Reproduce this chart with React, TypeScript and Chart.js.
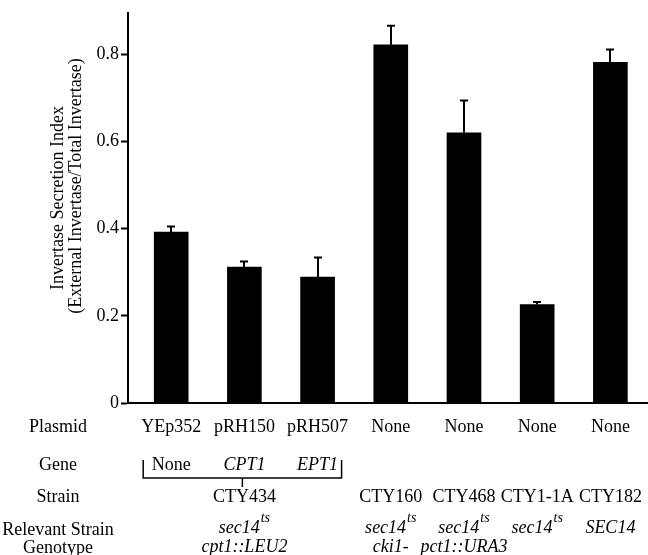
import React, { useEffect, useRef } from "react";
import { Chart, registerables } from "chart.js";

Chart.register(...registerables);

// ---- data ----
const plasmids = ["YEp352", "pRH150", "pRH507", "None", "None", "None", "None"];
const genes = ["None", "CPT1", "EPT1"];
const groupStrain = "CTY434";
const strains = ["CTY160", "CTY468", "CTY1-1A", "CTY182"];
const genotypeMain = ["sec14", "sec14", "sec14", "sec14", "SEC14"];
const genotypeSup = ["ts", "ts", "ts", "ts", ""];
const genotypeLine2 = ["cpt1::LEU2", "cki1-", "pct1::URA3", "", ""];
const rowHeaders = ["Plasmid", "Gene", "Strain", "Relevant Strain", "Genotype"];
const secretionIndex = [0.392, 0.312, 0.289, 0.822, 0.62, 0.226, 0.782];
const errorUpper = [0.013, 0.013, 0.045, 0.044, 0.074, 0.006, 0.029];
const yTicks = [0, 0.2, 0.4, 0.6, 0.8];
const yTitle = ["Invertase Secretion Index", "(External Invertase/Total Invertase)"];

const SERIF = '"Liberation Serif", "Times New Roman", serif';

const annotPlugin = {
  id: "annot",
  beforeDraw(chart: any) {
    const ctx = chart.ctx;
    ctx.save();
    ctx.fillStyle = "#fff";
    ctx.fillRect(0, 0, chart.width, chart.height);
    ctx.restore();
  },
  afterDraw(chart: any) {
    const ctx = chart.ctx;
    const xs = chart.scales.x;
    const ys = chart.scales.y;
    ctx.save();
    ctx.strokeStyle = "#000";
    ctx.fillStyle = "#000";

    // error bars (upper only)
    ctx.lineWidth = 2;
    secretionIndex.forEach((v, i) => {
      const cx = Math.round(xs.getPixelForValue(i));
      const y0 = ys.getPixelForValue(v);
      const y1 = ys.getPixelForValue(v + errorUpper[i]);
      ctx.beginPath();
      ctx.moveTo(cx, y0);
      ctx.lineTo(cx, y1);
      ctx.moveTo(cx - 4, y1);
      ctx.lineTo(cx + 4, y1);
      ctx.stroke();
    });

    // y title
    ctx.font = `18px ${SERIF}`;
    ctx.textAlign = "center";
    ctx.textBaseline = "middle";
    const titleX = [58, 76];
    const titleY = [198, 186];
    yTitle.forEach((t, i) => {
      ctx.save();
      ctx.translate(titleX[i], titleY[i]);
      ctx.rotate(-Math.PI / 2);
      ctx.fillText(t, 0, 0);
      ctx.restore();
    });

    // table
    const col = (i: number) => xs.getPixelForValue(i);
    const rowBase = [432, 470, 502, 535, 553];
    ctx.textBaseline = "alphabetic";
    ctx.textAlign = "center";
    ctx.font = `18px ${SERIF}`;
    rowHeaders.forEach((h, r) => ctx.fillText(h, 58, rowBase[r]));

    // plasmid row
    plasmids.forEach((p, i) => ctx.fillText(p, col(i), rowBase[0]));

    // gene row
    genes.forEach((g, i) => {
      ctx.font = i === 0 ? `18px ${SERIF}` : `italic 18px ${SERIF}`;
      ctx.fillText(g, col(i), rowBase[1]);
    });

    // bracket
    const bl = col(0) - 28;
    const br = col(genes.length - 1) + 24;
    const bc = (bl + br) / 2;
    ctx.lineWidth = 1.5;
    ctx.beginPath();
    ctx.moveTo(bl, 460);
    ctx.lineTo(bl, 478);
    ctx.lineTo(br, 478);
    ctx.lineTo(br, 460);
    ctx.moveTo(bc, 478);
    ctx.lineTo(bc, 487);
    ctx.stroke();

    // strain row
    ctx.font = `18px ${SERIF}`;
    const groupCenter = (col(0) + col(genes.length - 1)) / 2;
    ctx.fillText(groupStrain, groupCenter, rowBase[2]);
    strains.forEach((s, k) => ctx.fillText(s, col(genes.length + k), rowBase[2]));

    // genotype
    const gCenters = [groupCenter, ...strains.map((_, k) => col(genes.length + k))];
    gCenters.forEach((cx, k) => {
      ctx.font = `italic 18px ${SERIF}`;
      const mw = ctx.measureText(genotypeMain[k]).width;
      ctx.font = `italic 14px ${SERIF}`;
      const sw = genotypeSup[k] ? ctx.measureText(genotypeSup[k]).width + 1 : 0;
      const start = cx - (mw + sw) / 2;
      ctx.textAlign = "left";
      ctx.font = `italic 18px ${SERIF}`;
      ctx.fillText(genotypeMain[k], start, rowBase[3] - 2);
      if (genotypeSup[k]) {
        ctx.font = `italic 14px ${SERIF}`;
        ctx.fillText(genotypeSup[k], start + mw + 1, rowBase[3] - 13);
      }
      ctx.textAlign = "center";
      ctx.font = `italic 18px ${SERIF}`;
      if (genotypeLine2[k]) ctx.fillText(genotypeLine2[k], cx, rowBase[4] - 1);
    });

    ctx.restore();
  },
};

export default function App() {
  const ref = useRef<HTMLCanvasElement | null>(null);
  useEffect(() => {
    if (!ref.current) return;
    const chart = new Chart(ref.current, {
      type: "bar",
      data: {
        datasets: [
          {
            data: secretionIndex.map((v, i) => ({ x: i, y: v })),
            backgroundColor: "#000",
            borderWidth: 0,
            barThickness: 34,
          },
        ],
      },
      options: {
        responsive: false,
        devicePixelRatio: 1,
        animation: false,
        layout: { padding: { top: 13, left: 0, right: 0, bottom: 0 } },
        plugins: { legend: { display: false }, tooltip: { enabled: false } },
        scales: {
          x: {
            type: "linear",
            offset: false,
            min: -0.59,
            max: 6.514,
            grid: { display: false },
            ticks: { display: false },
            border: { display: true, color: "#000", width: 2 },
            afterFit: (s: any) => {
              s.height = 152;
            },
          },
          y: {
            min: 0,
            max: 0.895,
            position: "left",
            border: { display: true, color: "#000", width: 2 },
            grid: {
              display: true,
              drawOnChartArea: false,
              drawTicks: true,
              tickLength: 7,
              tickColor: "#000",
              tickWidth: 2,
            },
            ticks: {
              color: "#000",
              padding: 2,
              font: { family: SERIF, size: 18 },
              callback: (v: any) => (Number(v) === 0 ? "0" : Number(v).toFixed(1)),
            },
            afterBuildTicks: (s: any) => {
              s.ticks = yTicks.map((v) => ({ value: v }));
            },
            afterFit: (s: any) => {
              s.width = 128;
            },
          },
        },
      } as any,
      plugins: [annotPlugin],
    });
    return () => chart.destroy();
  }, []);
  return (
    <div style={{ position: "fixed", left: 0, top: 0, width: 648, height: 555, background: "#fff" }}>
      <canvas ref={ref} width={648} height={555} style={{ display: "block" }} />
    </div>
  );
}
